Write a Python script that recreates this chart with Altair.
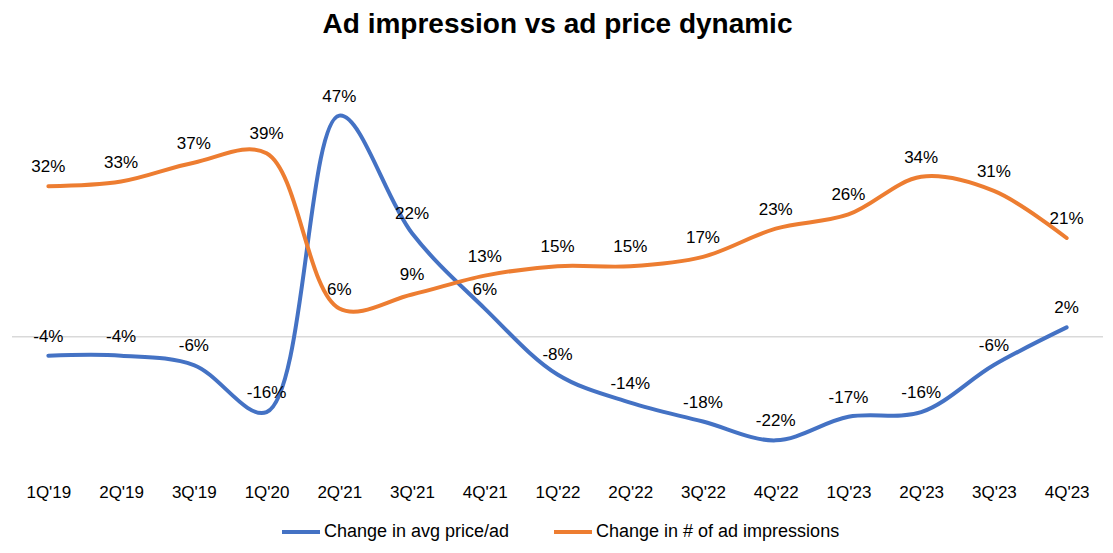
import altair as alt
import pandas as pd

quarters = ["1Q'19", "2Q'19", "3Q'19", "1Q'20", "2Q'21", "3Q'21", "4Q'21", "1Q'22",
            "2Q'22", "3Q'22", "4Q'22", "1Q'23", "2Q'23", "3Q'23", "4Q'23"]
price_change = [-4, -4, -6, -16, 47, 22, 6, -8, -14, -18, -22, -17, -16, -6, 2]
impression_change = [32, 33, 37, 39, 6, 9, 13, 15, 15, 17, 23, 26, 34, 31, 21]
series_names = ["Change in avg price/ad", "Change in # of ad impressions"]
series_colors = ["#4472C4", "#ED7D31"]

rows = []
for i, q in enumerate(quarters):
    rows.append({"q": q, "series": series_names[0], "v": price_change[i]})
    rows.append({"q": q, "series": series_names[1], "v": impression_change[i]})
df = pd.DataFrame(rows)
df["label"] = df["v"].map(lambda v: f"{v}%")

FONT = "Liberation Sans"
YDOM = [-30, 55]

x = alt.X("q:N", sort=quarters, scale=alt.Scale(type="point", padding=0.5),
          axis=alt.Axis(title=None, labelAngle=0, labelFontSize=17, labelFont=FONT,
                        labelColor="#000000", ticks=False, domain=False, grid=False,
                        labelPadding=6))
y = alt.Y("v:Q", scale=alt.Scale(domain=YDOM, nice=False, zero=False), axis=None)

base = alt.Chart(df)

zero = alt.Chart(pd.DataFrame({"z": [0]})).mark_rule(color="#d9d9d9", strokeWidth=1.5).encode(
    y=alt.Y("z:Q", scale=alt.Scale(domain=YDOM, nice=False, zero=False), axis=None)
)

lines = base.mark_line(interpolate="catmull-rom", strokeWidth=4, strokeCap="round").encode(
    x=x, y=y,
    color=alt.Color("series:N", scale=alt.Scale(domain=series_names, range=series_colors),
                    sort=series_names,
                    legend=alt.Legend(title=None, orient="none", direction="horizontal",
                                      legendX=268, legendY=433,
                                      symbolType="stroke", symbolSize=1444, symbolStrokeWidth=4,
                                      labelFontSize=18, labelFont=FONT, labelColor="#000000",
                                      labelLimit=400, labelOffset=2, columnPadding=36)),
    detail="series:N",
)

labels = base.mark_text(dy=-19, baseline="middle", fontSize=17, font=FONT, color="#000000").encode(
    x=x, y=y, text="label:N", detail="series:N"
)

chart = alt.layer(zero, lines, labels).properties(
    width=1091, height=400,
    title=alt.TitleParams("Ad impression vs ad price dynamic", fontSize=28, font=FONT,
                          fontWeight="bold", color="#000000", anchor="middle", offset=39),
    autosize=alt.AutoSizeParams(type="none"),
    padding={"left": 4, "top": 70, "right": 2, "bottom": 70},
).configure_view(stroke=None)

chart.save("out.html", embed_options={"renderer": "svg", "actions": False})
